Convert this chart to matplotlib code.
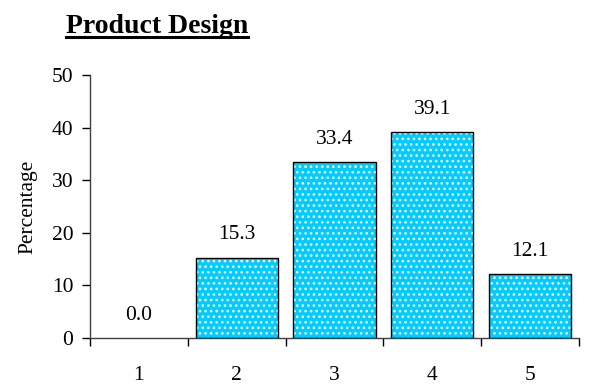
import matplotlib
matplotlib.use("Agg")
import matplotlib.pyplot as plt
from matplotlib.lines import Line2D

categories = ["1", "2", "3", "4", "5"]
values = [0.0, 15.3, 33.4, 39.1, 12.1]
value_labels = ["0.0", "15.3", "33.4", "39.1", "12.1"]
title = "Product Design"
ylabel = "Percentage"

CYAN = "#00CCFF"
FS = 15.5
plt.rcParams["font.family"] = ["Liberation Serif", "DejaVu Serif"]
plt.rcParams["hatch.linewidth"] = 1.1

fig = plt.figure(figsize=(5.89, 3.91), dpi=100)
ax = fig.add_axes([0.1528, 0.1355, 0.8302, 0.6726])

xs = list(range(len(categories)))
# fill with a white dotted hatch, then a black outline on top (skip empty bars)
ax.bar(xs, values, width=0.84, color=CYAN, edgecolor="white", hatch="...",
       linewidth=0)
outline = ["black" if v > 0 else "none" for v in values]
ax.bar(xs, values, width=0.84, fill=False, edgecolor=outline, linewidth=1.0)

for x, v, lab in zip(xs, values, value_labels):
    ax.annotate(lab, xy=(x, v), xytext=(0, 13), textcoords="offset points",
                ha="center", va="baseline", fontsize=FS)

ax.set_xlim(-0.5, len(categories) - 0.5)
ax.set_ylim(0, 50)
ax.set_yticks([0, 10, 20, 30, 40, 50])
ax.set_xticks(xs)
ax.set_xticklabels(categories)
ax.set_xticks([i - 0.5 for i in range(len(categories) + 1)], minor=True)
ax.tick_params(axis="x", which="major", length=0, pad=20, labelsize=FS)
ax.tick_params(axis="x", which="minor", length=6, direction="out",
               color="black", width=1.0)
ax.tick_params(axis="y", length=6, direction="out", labelsize=FS,
               width=1.0, pad=6)
ax.set_ylabel(ylabel, fontsize=FS, labelpad=10)

for s in ("top", "right"):
    ax.spines[s].set_visible(False)
for s in ("left", "bottom"):
    ax.spines[s].set_color("#404040")
    ax.spines[s].set_linewidth(1.0)

t = fig.text(0.266, 0.916, title, ha="center", va="baseline",
             fontsize=20, fontweight="bold")
fig.canvas.draw()
bb = t.get_window_extent().transformed(fig.transFigure.inverted())
fig.add_artist(Line2D([bb.x0, bb.x1], [0.906, 0.906], color="black",
                      lw=2.2, transform=fig.transFigure))

fig.savefig("out.png", dpi=100)
